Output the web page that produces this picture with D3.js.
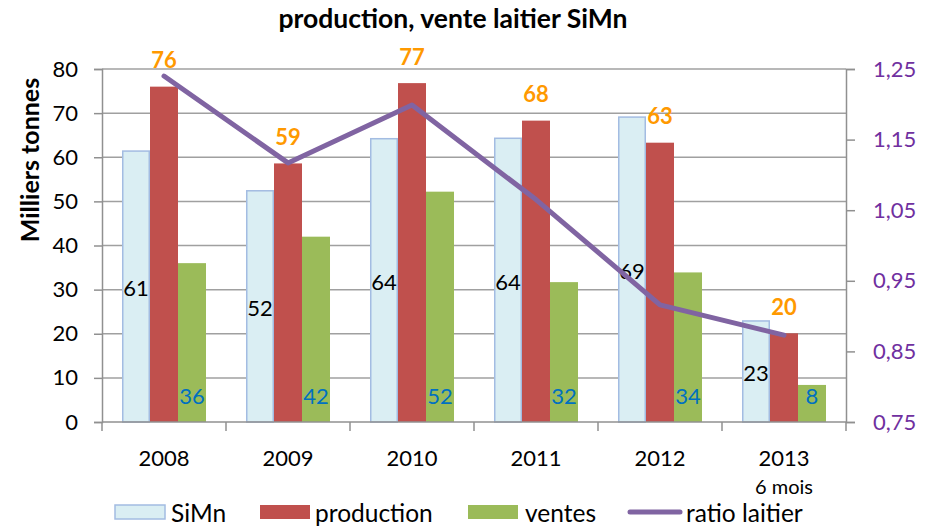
<!DOCTYPE html>
<html>
<head>
<meta charset="utf-8">
<script src="https://cdn.jsdelivr.net/npm/d3@7"></script>
<style>
  html, body { margin: 0; padding: 0; background: #fff; }
  svg { display: block; font-family: Lato, "Open Sans", sans-serif; }
</style>
</head>
<body>
<svg id="chart" width="925" height="526"></svg>
<script>
const years = ["2008", "2009", "2010", "2011", "2012", "2013"];
const yearSub = ["", "", "", "", "", "6 mois"];
const simn = [61.4, 52.4, 64.2, 64.3, 69.1, 22.9];
const production = [76.0, 58.6, 76.8, 68.3, 63.3, 20.1];
const ventes = [36.0, 42.0, 52.2, 31.7, 33.9, 8.4];
const ratio = [1.240, 1.117, 1.199, 1.065, 0.916, 0.873];
const leftTicks = [0, 10, 20, 30, 40, 50, 60, 70, 80];
const rightTicks = [0.75, 0.85, 0.95, 1.05, 1.15, 1.25];
const seriesNames = ["SiMn", "production", "ventes"];
const title = "production, vente laitier SiMn";
const yTitle = "Milliers tonnes";
const lineName = "ratio laitier";

const colors = {
  SiMn: "#DAEEF3", SiMnStroke: "#A3BCE2",
  production: "#C0504D", ventes: "#9BBB59", line: "#8064A2",
  grid: "#A0A0A0", prodLabel: "#FF9900", ventesLabel: "#0070C0",
  right: "#7030A0"
};

const svg = d3.select("#chart");
const pL = 102, pR = 846, pT = 69, pB = 422;

const x0 = d3.scaleBand().domain(years).range([pL, pR]).paddingInner(0).paddingOuter(0);
const x1 = d3.scaleBand().domain(seriesNames).range([0, x0.bandwidth()]).paddingInner(0).paddingOuter(0.714);
const y = d3.scaleLinear().domain([0, 80]).range([pB, pT]);
const y2 = d3.scaleLinear().domain([0.75, 1.25]).range([pB, pT]);

// gridlines
svg.append("g").selectAll("line").data(leftTicks.filter(d => d > 0)).join("line")
  .attr("x1", pL).attr("x2", pR)
  .attr("y1", d => y(d)).attr("y2", d => y(d))
  .attr("stroke", colors.grid).attr("stroke-width", 1.5);

// bars
const rows = years.map((yr, i) => ({
  year: yr,
  vals: [
    { s: "SiMn", v: simn[i] },
    { s: "production", v: production[i] },
    { s: "ventes", v: ventes[i] }
  ]
}));
const groups = svg.append("g").selectAll("g").data(rows).join("g")
  .attr("transform", d => `translate(${x0(d.year)},0)`);
groups.selectAll("rect").data(d => d.vals).join("rect")
  .attr("x", d => x1(d.s) + (d.s === "SiMn" ? 0.75 : 0))
  .attr("width", d => x1.bandwidth() - (d.s === "SiMn" ? 1.5 : 0))
  .attr("y", d => y(d.v))
  .attr("height", d => pB - y(d.v))
  .attr("fill", d => colors[d.s])
  .attr("stroke", d => d.s === "SiMn" ? colors.SiMnStroke : "none")
  .attr("stroke-width", 1.5);

// axes
const axisColor = "#909090";
const gl = svg.append("g").attr("transform", `translate(${pL},0)`)
  .call(d3.axisLeft(y).tickValues(leftTicks).tickSize(8).tickPadding(16).tickFormat(d3.format("d")));
gl.selectAll("text").attr("font-size", 22).attr("fill", "#000").attr("font-family", "Lato");
gl.selectAll("line, path").attr("stroke", axisColor).attr("stroke-width", 1.5);

const gr = svg.append("g").attr("transform", `translate(${pR},0)`)
  .call(d3.axisRight(y2).tickValues(rightTicks).tickSize(9).tickPadding(18)
    .tickFormat(d => d3.format(".2f")(d).replace(".", ",")));
gr.selectAll("text").attr("font-size", 22).attr("fill", colors.right).attr("font-family", "Lato");
gr.selectAll("line, path").attr("stroke", axisColor).attr("stroke-width", 1.5);

// bottom axis
const gb = svg.append("g");
gb.append("line").attr("x1", pL).attr("x2", pR).attr("y1", pB).attr("y2", pB)
  .attr("stroke", axisColor).attr("stroke-width", 1.5);
gb.selectAll("line.tk").data(years.concat(["end"])).join("line").attr("class", "tk")
  .attr("x1", d => d === "end" ? pR : x0(d)).attr("x2", d => d === "end" ? pR : x0(d))
  .attr("y1", pB).attr("y2", pB + 9)
  .attr("stroke", axisColor).attr("stroke-width", 1.5);
gb.selectAll("text.yr").data(years).join("text").attr("class", "yr")
  .attr("x", d => x0(d) + x0.bandwidth() / 2).attr("y", 457)
  .attr("text-anchor", "middle").attr("dominant-baseline", "central")
  .attr("font-size", 22).text(d => d);
gb.selectAll("text.sub").data(years).join("text").attr("class", "sub")
  .attr("x", d => x0(d) + x0.bandwidth() / 2).attr("y", 486)
  .attr("text-anchor", "middle").attr("dominant-baseline", "central")
  .attr("font-size", 20).text((d, i) => yearSub[i]);

// data labels
const fmt = d3.format(".0f");
groups.append("text")
  .attr("x", x1("SiMn") + x1.bandwidth() / 2)
  .attr("y", d => (y(d.vals[0].v) + pB) / 2 + 1)
  .attr("text-anchor", "middle").attr("dominant-baseline", "central")
  .attr("font-size", 22).attr("fill", "#000")
  .text(d => fmt(d.vals[0].v));
groups.append("text")
  .attr("x", x1("production") + x1.bandwidth() / 2)
  .attr("y", d => y(d.vals[1].v) - 27)
  .attr("text-anchor", "middle").attr("dominant-baseline", "central")
  .attr("font-size", 22).attr("font-weight", "bold").attr("fill", colors.prodLabel)
  .text(d => fmt(d.vals[1].v));
groups.append("text")
  .attr("x", x1("ventes") + x1.bandwidth() / 2)
  .attr("y", pB - 27)
  .attr("text-anchor", "middle").attr("dominant-baseline", "central")
  .attr("font-size", 22).attr("fill", colors.ventesLabel)
  .text(d => fmt(d.vals[2].v));

// ratio line
const line = d3.line()
  .x((d, i) => x0(years[i]) + x0.bandwidth() / 2)
  .y(d => y2(d));
svg.append("path").datum(ratio).attr("d", line)
  .attr("fill", "none").attr("stroke", colors.line).attr("stroke-width", 5)
  .attr("stroke-linejoin", "round").attr("stroke-linecap", "round");

// title
svg.append("text").attr("x", 453).attr("y", 28).attr("text-anchor", "middle")
  .attr("font-size", 26.5).attr("font-weight", "bold").text(title);
svg.append("text").attr("transform", "translate(29,160) rotate(-90)")
  .attr("text-anchor", "middle").attr("dominant-baseline", "central")
  .attr("font-size", 25).attr("font-weight", "bold").text(yTitle);

// legend
const lg = svg.append("g");
const legendItems = [
  { name: "SiMn", type: "rect", sx: 115, tx: 171 },
  { name: "production", type: "rect", sx: 260, tx: 315 },
  { name: "ventes", type: "rect", sx: 468, tx: 525 },
  { name: lineName, type: "line", sx: 630, tx: 686 }
];
legendItems.forEach(it => {
  if (it.type === "rect") {
    lg.append("rect").attr("x", it.sx).attr("y", 505).attr("width", 50).attr("height", 14)
      .attr("fill", colors[it.name])
      .attr("stroke", it.name === "SiMn" ? colors.SiMnStroke : "none").attr("stroke-width", 1.5);
  } else {
    lg.append("line").attr("x1", it.sx).attr("x2", it.sx + 50).attr("y1", 512).attr("y2", 512)
      .attr("stroke", colors.line).attr("stroke-width", 5).attr("stroke-linecap", "round");
  }
  lg.append("text").attr("x", it.tx).attr("y", 512).attr("dominant-baseline", "central")
    .attr("font-size", 24.5).text(it.name);
});
</script>
</body>
</html>
